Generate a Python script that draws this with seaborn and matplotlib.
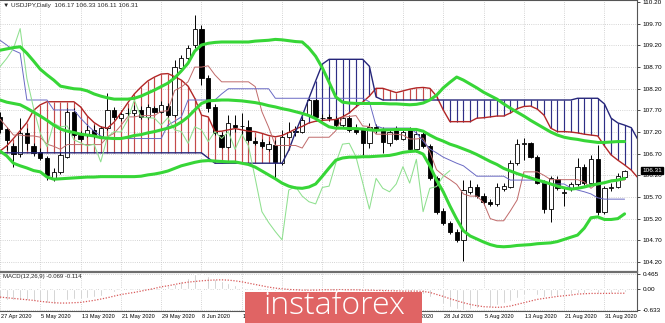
import numpy as np
import matplotlib
matplotlib.use("Agg")
import matplotlib.pyplot as plt
from matplotlib.patches import Rectangle
import matplotlib.transforms as mtrans
import seaborn as sns

# ---------------- data ----------------
open_ = [107.55,107.26,106.88,106.69,107.18,106.88,106.75,106.59,106.13,106.28,
         106.63,107.67,107.13,107.13,107.25,107.11,107.29,107.71,107.52,107.63,
         107.63,107.72,107.54,107.75,107.67,107.80,107.59,108.67,108.90,109.21,
         109.59,108.44,107.78,107.13,106.86,107.36,107.33,107.32,107.00,106.98,
         106.80,106.90,106.49,107.09,107.22,107.21,107.59,107.94,107.52,107.53,
         107.49,107.36,107.52,107.26,107.25,106.94,107.31,107.25,106.94,107.25,
         107.05,107.26,106.80,107.15,106.88,106.13,105.38,105.09,104.90,104.71,
         105.82,105.94,105.72,105.58,105.54,105.88,105.94,106.49,106.93,106.94,
         106.63,106.03,105.42,106.11,105.79,105.88,106.00,106.40,106.02,106.57,
         105.36,105.90,105.94,106.17]
close = [107.27,107.02,106.69,107.18,106.94,106.72,106.59,106.21,106.28,106.67,
         107.67,107.13,107.03,107.25,107.11,107.29,107.71,107.55,107.62,107.64,
         107.72,107.54,107.77,107.67,107.82,107.59,108.71,108.90,109.13,109.59,
         108.44,107.75,107.17,106.86,107.40,107.32,107.34,107.02,106.95,106.88,
         106.92,106.51,107.09,107.21,107.20,107.48,107.94,107.55,107.53,107.52,
         107.36,107.53,107.25,107.21,106.94,107.32,107.25,106.98,107.21,107.05,
         107.21,106.80,107.15,106.88,106.13,105.36,105.11,104.90,104.71,105.86,
         105.94,105.72,105.59,105.54,105.92,105.95,106.48,106.92,106.94,106.63,
         106.03,105.42,106.13,105.90,105.82,106.00,106.40,106.02,106.57,105.36,
         105.90,105.94,106.18,106.31]
high = [107.66,107.32,106.95,107.52,107.29,106.95,106.83,106.65,106.37,106.74,
        107.75,107.75,107.22,107.38,107.36,107.34,108.10,107.78,107.71,107.75,
        107.82,107.80,107.85,107.80,107.92,107.87,108.86,108.98,109.21,109.90,
        109.67,108.52,107.85,107.20,107.59,107.59,107.64,107.48,107.08,107.04,
        106.99,107.02,107.25,107.43,107.34,107.52,108.01,107.98,107.62,107.62,
        107.57,107.62,107.59,107.38,107.29,107.40,107.38,107.32,107.27,107.34,
        107.27,107.32,107.22,107.22,106.92,106.18,105.45,105.15,104.96,106.09,
        106.09,106.00,105.79,105.65,106.02,106.02,106.55,107.05,107.06,106.97,
        106.67,106.09,106.18,106.18,105.91,106.05,106.60,106.46,106.67,106.90,
        105.95,106.02,106.25,106.33]
low = [107.18,106.78,106.40,106.63,106.78,106.65,106.55,106.09,106.07,106.23,
       106.60,107.08,106.99,107.08,107.06,107.06,107.25,107.48,107.45,107.57,
       107.57,107.50,107.50,107.64,107.64,107.55,107.55,108.63,108.82,109.14,
       108.28,107.66,107.13,106.82,106.83,107.20,107.13,106.97,106.90,106.83,
       106.76,106.14,106.44,107.06,107.11,107.18,107.55,107.48,107.45,107.45,
       107.32,107.32,107.20,107.15,106.67,106.82,107.18,106.72,106.88,107.02,
       107.02,106.76,106.74,106.83,106.09,105.31,105.05,104.85,104.66,104.21,
       105.77,105.68,105.52,105.49,105.49,105.84,105.91,106.44,106.55,106.60,
       106.00,105.33,105.13,105.86,105.48,105.84,105.95,105.98,105.98,105.28,
       105.31,105.84,105.91,106.11]

bb_upper = [109.09,109.12,109.15,109.17,109.02,108.84,108.65,108.52,108.40,108.26,
            108.23,108.20,108.19,108.15,108.08,108.03,107.99,107.96,107.96,107.96,
            107.98,108.03,108.10,108.17,108.25,108.33,108.45,108.61,108.79,109.07,
            109.21,109.25,109.27,109.28,109.28,109.28,109.28,109.28,109.30,109.31,
            109.32,109.34,109.33,109.31,109.29,109.28,109.14,108.95,108.68,108.35,
            108.01,107.89,107.87,107.86,107.86,107.86,107.86,107.86,107.85,107.85,
            107.84,107.83,107.84,107.87,107.94,108.05,108.22,108.35,108.47,108.40,
            108.31,108.22,108.12,108.04,107.96,107.85,107.75,107.66,107.57,107.47,
            107.38,107.29,107.20,107.13,107.08,107.05,107.03,107.00,106.98,106.96,
            106.96,106.97,106.98,106.98]
bb_mid = [107.94,107.89,107.86,107.83,107.75,107.66,107.57,107.47,107.36,107.27,
          107.22,107.19,107.15,107.13,107.11,107.07,107.06,107.05,107.05,107.08,
          107.12,107.14,107.18,107.21,107.25,107.29,107.34,107.43,107.55,107.71,
          107.86,107.92,107.93,107.94,107.94,107.93,107.92,107.90,107.88,107.85,
          107.81,107.78,107.74,107.71,107.67,107.63,107.58,107.51,107.41,107.32,
          107.29,107.29,107.28,107.28,107.27,107.25,107.24,107.25,107.25,107.26,
          107.26,107.26,107.26,107.22,107.13,107.05,106.99,106.92,106.87,106.81,
          106.75,106.68,106.60,106.52,106.45,106.36,106.30,106.24,106.19,106.14,
          106.09,106.05,106.00,105.95,105.91,105.88,105.90,105.93,105.97,106.00,
          106.03,106.07,106.09,106.13]
bb_lower = [106.76,106.65,106.48,106.42,106.37,106.31,106.28,106.16,106.11,106.12,
            106.13,106.14,106.15,106.16,106.16,106.17,106.17,106.17,106.17,106.17,
            106.17,106.18,106.21,106.23,106.26,106.30,106.36,106.42,106.46,106.50,
            106.53,106.54,106.53,106.52,106.51,106.51,106.48,106.45,106.39,106.30,
            106.21,106.12,106.02,105.95,105.91,105.90,105.93,106.00,106.18,106.37,
            106.55,106.60,106.62,106.62,106.63,106.63,106.64,106.65,106.66,106.69,
            106.73,106.75,106.76,106.69,106.42,106.09,105.82,105.49,105.19,104.92,
            104.80,104.73,104.66,104.60,104.56,104.55,104.56,104.58,104.59,104.60,
            104.62,104.63,104.64,104.67,104.72,104.77,104.82,104.98,105.22,105.24,
            105.18,105.18,105.20,105.31]

tenkan = [107.50,107.32,107.13,107.13,107.11,107.11,107.08,106.92,106.87,106.80,
          106.91,106.91,106.91,106.91,106.91,106.91,107.09,107.17,107.35,107.55,
          107.55,107.58,107.58,107.58,107.68,107.69,108.16,108.24,108.36,108.70,
          108.70,108.73,108.52,108.36,108.36,108.36,108.36,108.36,108.25,107.67,
          107.31,106.89,106.89,106.89,106.89,106.83,107.08,107.08,107.08,107.08,
          107.23,107.54,107.56,107.58,107.34,107.33,107.15,107.15,107.15,107.15,
          107.13,107.04,107.04,107.06,106.74,106.33,106.20,106.10,105.99,105.77,
          105.72,105.72,105.57,105.20,105.15,105.15,105.38,105.63,106.28,106.28,
          106.28,106.20,106.10,106.10,106.10,106.10,106.10,106.05,105.90,106.02,
          106.02,106.09,106.09,106.09]
kijun = [109.32,109.21,109.09,109.02,107.94,107.94,107.94,107.94,107.71,107.71,
         107.71,107.71,107.52,107.36,107.22,107.11,107.05,107.05,107.05,107.05,
         107.05,107.05,107.05,107.05,107.05,107.36,107.45,107.55,107.94,107.94,
         107.94,107.94,107.94,108.08,108.20,108.20,108.20,108.20,108.20,108.20,
         108.20,107.98,107.98,107.98,107.98,107.98,107.98,107.98,107.98,107.98,
         107.98,107.98,107.98,107.98,107.98,107.90,107.34,107.29,107.29,107.29,
         107.29,107.29,107.18,106.99,106.81,106.72,106.62,106.55,106.48,106.42,
         106.30,106.18,106.18,106.18,106.18,106.18,106.09,106.09,106.09,106.09,
         106.09,106.02,106.00,106.00,106.00,105.91,105.86,105.82,105.77,105.68,
         105.65,105.65,105.65,105.65]
span_a = [106.76,106.88,107.05,107.23,107.42,107.70,107.83,107.90,107.90,107.90,
          107.90,107.90,107.78,107.57,107.42,107.32,107.29,107.43,107.64,107.87,
          108.08,108.24,108.38,108.47,108.54,108.55,108.48,108.40,108.26,107.98,
          107.59,107.55,107.21,107.22,107.25,107.28,107.25,107.22,107.21,107.17,
          107.12,107.09,107.12,107.19,107.27,107.33,107.41,107.45,107.47,107.48,
          107.49,107.55,107.64,107.78,107.89,108.03,108.21,108.21,108.16,108.11,
          108.15,108.19,108.22,108.23,108.21,108.03,107.71,107.44,107.44,107.44,
          107.44,107.52,107.53,107.55,107.57,107.57,107.64,107.74,107.79,107.80,
          107.73,107.59,107.29,107.21,107.21,107.20,107.18,107.15,107.13,107.11,
          106.88,106.67,106.55,106.44,106.32,106.14]
span_b = [106.72,106.72,106.72,106.72,106.72,106.72,106.72,106.72,106.72,106.72,
          106.72,106.72,106.72,106.72,106.72,106.72,106.72,106.72,106.72,106.72,
          106.72,106.72,106.72,106.72,106.72,106.72,106.72,106.72,106.72,106.72,
          106.72,106.60,106.48,106.48,106.48,106.48,106.48,106.48,106.48,106.48,
          106.48,106.48,106.48,106.78,107.20,107.57,107.98,108.38,108.77,108.88,
          108.88,108.88,108.88,108.88,108.88,108.72,108.01,107.94,107.94,107.94,
          107.94,107.94,107.94,107.94,107.94,107.94,107.94,107.94,107.94,107.94,
          107.94,107.94,107.94,107.94,107.94,107.94,107.94,107.94,107.94,107.94,
          107.94,107.94,107.94,107.94,107.94,107.94,107.98,107.98,107.98,107.98,
          107.85,107.52,107.41,107.36,107.30,107.02]
chikou_shift = 26

macd_main = [-0.30,-0.31,-0.33,-0.33,-0.33,-0.35,-0.37,-0.41,-0.44,-0.42,
             -0.32,-0.30,-0.28,-0.25,-0.22,-0.19,-0.12,-0.08,-0.05,-0.02,
             0.01,0.02,0.05,0.06,0.09,0.09,0.17,0.26,0.36,0.47,
             0.46,0.40,0.31,0.25,0.20,0.14,0.10,0.06,0.03,0.00,
             -0.03,-0.06,-0.05,-0.05,-0.05,-0.02,0.03,0.03,0.03,0.03,
             0.02,0.02,0.00,-0.02,-0.05,-0.05,-0.06,-0.08,-0.08,-0.09,
             -0.09,-0.12,-0.12,-0.14,-0.22,-0.33,-0.43,-0.52,-0.60,-0.62,
             -0.60,-0.57,-0.55,-0.52,-0.47,-0.42,-0.34,-0.25,-0.18,-0.15,
             -0.16,-0.22,-0.20,-0.19,-0.17,-0.15,-0.11,-0.10,-0.06,-0.12,
             -0.11,-0.10,-0.085,-0.069]
macd_signal = [-0.23,-0.25,-0.27,-0.29,-0.31,-0.33,-0.36,-0.38,-0.40,-0.41,
               -0.41,-0.40,-0.39,-0.36,-0.33,-0.29,-0.25,-0.20,-0.155,-0.12,
               -0.09,-0.05,-0.01,0.03,0.08,0.11,0.15,0.19,0.22,0.24,
               0.26,0.275,0.285,0.29,0.28,0.26,0.23,0.19,0.15,0.11,
               0.07,0.04,0.02,0.00,-0.01,-0.02,-0.02,-0.02,-0.01,-0.01,
               -0.01,-0.01,-0.01,-0.01,-0.02,-0.02,-0.03,-0.03,-0.04,-0.04,
               -0.05,-0.05,-0.05,-0.06,-0.09,-0.15,-0.21,-0.28,-0.34,-0.40,
               -0.45,-0.49,-0.52,-0.53,-0.54,-0.53,-0.50,-0.45,-0.40,-0.35,
               -0.30,-0.27,-0.24,-0.21,-0.19,-0.17,-0.14,-0.13,-0.12,-0.12,
               -0.12,-0.117,-0.115,-0.114]

date_pos = [0, 6, 12, 18, 24, 30, 36, 42, 48, 54, 60, 66, 72, 78, 84, 90]
date_labels = ["27 Apr 2020", "5 May 2020", "13 May 2020", "21 May 2020", "29 May 2020",
               "8 Jun 2020", "16 Jun 2020", "24 Jun 2020", "2 Jul 2020", "10 Jul 2020",
               "20 Jul 2020", "28 Jul 2020", "5 Aug 2020", "13 Aug 2020", "21 Aug 2020",
               "31 Aug 2020"]
price_ticks = [104.20, 104.70, 105.20, 105.70, 106.20, 106.70, 107.20, 107.70,
               108.20, 108.70, 109.20, 109.70, 110.20]
macd_ticks = [0.465, 0.00, -0.633]
macd_tick_labels = ["0.465", "0.00", "-0.633"]
title_text = "\u25bc USDJPY,Daily  106.17 106.33 106.11 106.31"
macd_text = "MACD(12,26,9) -0.069 -0.114"
last_price = 106.31
logo_text = "instaforex"

# ---------------- style ----------------
sns.set_style("white")
plt.rcParams['font.family'] = ['Liberation Sans', 'DejaVu Sans']
FS = 4.6
FS_DATE = 4.1

W, H = 665, 323
fig = plt.figure(figsize=(W / 100, H / 100), dpi=100)
fig.patch.set_facecolor("white")
ax = fig.add_axes([0, 1 - 271 / H, 637 / W, 271 / H])
ax2 = fig.add_axes([0, 1 - 311 / H, 637 / W, 39 / H])

XMIN, XMAX = 0.05, 94.85
for a in (ax, ax2):
    a.set_xlim(XMIN, XMAX)
    a.set_facecolor("white")
ax.set_ylim(103.99, 110.25)
ax2.set_ylim(-0.650, 0.526)

grid_kw = dict(color="#c6c6c6", lw=0.6, ls=(0, (1, 1.6)), zorder=0)
for t in date_pos:
    ax.axvline(t, **grid_kw)
    ax2.axvline(t, **grid_kw)
for p in price_ticks[:-1]:
    ax.axhline(p, **grid_kw)
for p in macd_ticks:
    ax2.axhline(p, **grid_kw)

# ---------------- Ichimoku cloud ----------------
sa = np.array(span_a)
sb = np.array(span_b)
cidx = np.arange(len(sa))
up = sa >= sb
ax.vlines(cidx[up], sb[up], sa[up], color="#c44a4a", lw=0.85, zorder=1)
ax.vlines(cidx[~up], sa[~up], sb[~up], color="#2e2e86", lw=0.85, zorder=1)
sns.lineplot(x=cidx, y=sa, ax=ax, color="#b22626", linewidth=1.0, zorder=3,
             errorbar=None, legend=False)
sns.lineplot(x=cidx, y=sb, ax=ax, color="#26267a", linewidth=1.0, zorder=3,
             errorbar=None, legend=False)

# ---------------- candles ----------------
o = np.array(open_); c = np.array(close); h = np.array(high); l = np.array(low)
idx = np.arange(len(c))
bull = c >= o
ax.vlines(idx, l, h, color="black", lw=0.7, zorder=2)
body_h = np.where(np.abs(c - o) < 0.012, 0.012, c - o)
ax.bar(idx[bull], body_h[bull], bottom=o[bull], width=0.64, color="white",
       edgecolor="black", linewidth=0.6, zorder=2.5)
ax.bar(idx[~bull], body_h[~bull], bottom=o[~bull], width=0.64, color="black",
       edgecolor="black", linewidth=0.6, zorder=2.5)

# ---------------- thin Ichimoku lines ----------------
sns.lineplot(x=idx, y=np.array(tenkan), ax=ax, color="#c06a6a", linewidth=0.7,
             zorder=3.2, errorbar=None, legend=False)
sns.lineplot(x=idx, y=np.array(kijun), ax=ax, color="#6a6ac4", linewidth=0.7,
             zorder=3.2, errorbar=None, legend=False)
sns.lineplot(x=idx[:-chikou_shift], y=c[chikou_shift:], ax=ax, color="#8fe08f",
             linewidth=0.75, zorder=3.2, errorbar=None, legend=False)

# ---------------- Bollinger bands ----------------
for band in (bb_upper, bb_mid, bb_lower):
    sns.lineplot(x=idx, y=np.array(band), ax=ax, color="#37d637", linewidth=2.2,
                 zorder=4, errorbar=None, legend=False)

# ---------------- MACD ----------------
mm = np.array(macd_main)
ax2.bar(idx, mm, width=0.28, color="#bdbdbd", zorder=1)
sns.lineplot(x=idx, y=np.array(macd_signal), ax=ax2, color="#d85a5a", linewidth=0.9,
             linestyle=(0, (1, 1.3)), zorder=2, errorbar=None, legend=False)

# ---------------- axes cosmetics ----------------
for a in (ax, ax2):
    a.set_xlabel("")
    a.set_ylabel("")
    a.spines["left"].set_visible(False)
    for s in ("top", "right", "bottom"):
        a.spines[s].set_color("#555555")
        a.spines[s].set_linewidth(0.8)
ax.spines["bottom"].set_visible(False)
ax2.spines["top"].set_color("#6e6e6e")
ax2.spines["top"].set_linewidth(1.6)

ax.set_xticks(date_pos)
ax.tick_params(axis="x", length=0, labelbottom=False)
ax.yaxis.tick_right()
ax.set_yticks(price_ticks)
ax.set_yticklabels(["%.2f" % p for p in price_ticks])
ax.tick_params(axis="y", length=2, width=0.5, pad=2, labelsize=FS, colors="black")

ax2.yaxis.tick_right()
ax2.set_yticks(macd_ticks)
ax2.set_yticklabels(macd_tick_labels)
ax2.tick_params(axis="y", length=2, width=0.5, pad=2, labelsize=FS, colors="black")
ax2.set_xticks(date_pos)
ax2.set_xticklabels([])
ax2.tick_params(axis="x", length=2, width=0.5)

# logo box (figure pixels)
LOGO_L, LOGO_R, LOGO_T = 245, 422, 291.5

fig.canvas.draw()
trans = mtrans.blended_transform_factory(ax2.transData, fig.transFigure)
for pos, lab in zip(date_pos, date_labels):
    xpix = ax2.transData.transform((pos + 0.15, 0))[0]
    # labels lying entirely under the logo box are hidden in the reference
    if xpix > LOGO_L + 2 and xpix + 30 < LOGO_R:
        continue
    ax2.text(pos + 0.15, 1 - 316.5 / H, lab, transform=trans, fontsize=FS_DATE,
             ha="left", va="center", color="black", clip_on=False)

# last price highlight
tr_lp = mtrans.blended_transform_factory(ax.transAxes, ax.transData)
ax.text(1 + 5 / 637, last_price, "%.2f" % last_price, transform=tr_lp, fontsize=FS,
        color="white", ha="left", va="center", zorder=6, clip_on=False,
        bbox=dict(boxstyle="square,pad=0.15", fc="black", ec="black"))

fig.text(3 / W, 1 - 5 / H, title_text, fontsize=FS, ha="left", va="center",
         family=["Liberation Sans", "DejaVu Sans"])
fig.text(3 / W, 1 - 276.5 / H, macd_text, fontsize=FS * 0.95, ha="left", va="center")

fig.add_artist(Rectangle((LOGO_L / W, 0), (LOGO_R - LOGO_L) / W, (H - LOGO_T) / H,
                         transform=fig.transFigure, facecolor="#e06464",
                         edgecolor="none", zorder=10))
fig.text(334 / W, 1 - 306 / H, logo_text, color="white", fontsize=23,
         ha="center", va="center", zorder=11, family=["Open Sans", "DejaVu Sans"],
         fontweight="light")

fig.savefig("out.png", dpi=100, facecolor="white")
